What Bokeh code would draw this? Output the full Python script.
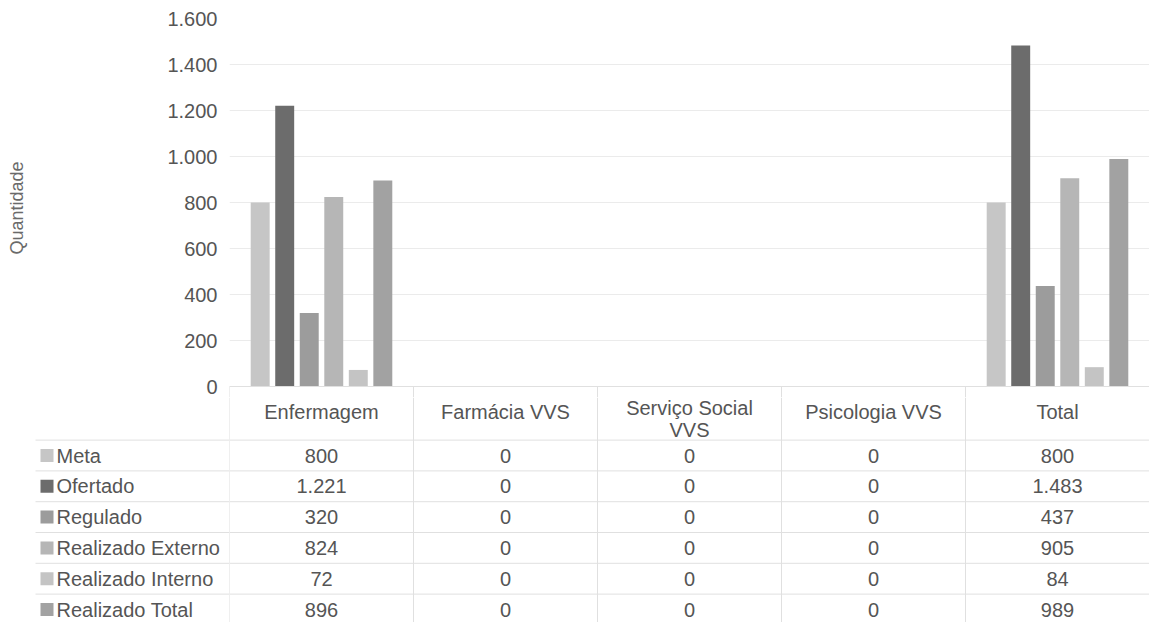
from bokeh.plotting import figure
from bokeh.layouts import column, row
from bokeh.models import FactorRange, Range1d, ColumnDataSource, FixedTicker
from bokeh.transform import dodge
from bokeh.core.properties import value
from bokeh.embed import file_html
from bokeh.resources import INLINE

# ---------------- data ----------------
categories = ["Enfermagem", "Farmácia VVS", "Serviço Social VVS", "Psicologia VVS", "Total"]
header_labels = ["Enfermagem", "Farmácia VVS", "Serviço Social\nVVS", "Psicologia VVS", "Total"]
series_names = ["Meta", "Ofertado", "Regulado", "Realizado Externo", "Realizado Interno", "Realizado Total"]
meta = [800, 0, 0, 0, 800]
ofertado = [1221, 0, 0, 0, 1483]
regulado = [320, 0, 0, 0, 437]
realizado_externo = [824, 0, 0, 0, 905]
realizado_interno = [72, 0, 0, 0, 84]
realizado_total = [896, 0, 0, 0, 989]
y_ticks = [0, 200, 400, 600, 800, 1000, 1200, 1400, 1600]
y_axis_label = "Quantidade"

series_values = [meta, ofertado, regulado, realizado_externo, realizado_interno, realizado_total]
colors = ["#c6c6c6", "#6c6c6c", "#9c9c9c", "#b6b6b6", "#c4c4c4", "#a2a2a2"]


def fmt(v):
    return f"{v:,}".replace(",", ".")


# ---------------- layout constants (pixels) ----------------
W = 1149
LEFT = 229            # width of the left column (axis / legend keys)
TOP = 18              # frame top of the chart
FH0 = 368             # pixels from 0 to 1600
EXT = 11              # frame extension below zero (room for the "0" label)
HA = TOP + FH0 + EXT  # chart figure height
HB = 225              # table figure height
NCAT = len(categories)
FONT = value("Liberation Sans")
TXT = "#555555"
LINE = "#e0e0e0"
FS = "20px"
Y_MIN = -EXT * 1600 / FH0

# ---------------- chart ----------------
pa = figure(width=W, height=HA, output_backend="svg", toolbar_location=None,
            x_range=FactorRange(*categories), y_range=Range1d(Y_MIN, 1600),
            x_axis_location=None, min_border_left=LEFT, min_border_right=0,
            min_border_top=TOP, min_border_bottom=0)
pa.outline_line_color = None
pa.xgrid.visible = False

yax = pa.yaxis[0]
yax.ticker = FixedTicker(ticks=y_ticks)
yax.major_label_overrides = {t: fmt(t) for t in y_ticks}
yax.axis_line_color = None
yax.major_tick_line_color = None
yax.minor_tick_line_color = None
yax.major_tick_out = 0
yax.major_label_standoff = 12
yax.major_label_text_font = "Liberation Sans"
yax.major_label_text_font_size = FS
yax.major_label_text_color = TXT
yax.axis_label = y_axis_label
yax.axis_label_text_font = "Liberation Sans"
yax.axis_label_text_font_size = "18px"
yax.axis_label_text_font_style = "normal"
yax.axis_label_text_color = "#6a6a6a"
yax.axis_label_standoff = 137
pa.ygrid.ticker = FixedTicker(ticks=y_ticks)
pa.ygrid.grid_line_color = "#ebebeb"

STEP = 0.1333
BW = 0.103
for i, (vals, col) in enumerate(zip(series_values, colors)):
    src = ColumnDataSource(dict(cat=categories, v=vals))
    pa.vbar(x=dodge("cat", (i - 2.5) * STEP, range=pa.x_range), top="v", width=BW,
            source=src, fill_color=col, line_color=None)

# category axis line and start of the table's column lines
ax_x0 = [0] + list(range(NCAT + 1))
ax_x1 = [NCAT] + list(range(NCAT + 1))
ax_y0 = [0] * (NCAT + 2)
ax_y1 = [0] + [Y_MIN] * (NCAT + 1)
pa.segment(x0="x0", y0="y0", x1="x1", y1="y1", line_color=LINE, line_width=1,
           source=ColumnDataSource(dict(x0=ax_x0, y0=ax_y0, x1=ax_x1, y1=ax_y1)))

# ---------------- data table ----------------
# table y coordinates: pixels below the top of the table figure
HEADER_Y = 14
HEADER2_Y = 21
ROW0 = 58
ROW_STEP = 30.8
row_y = [ROW0 + i * ROW_STEP for i in range(len(series_names))]
row_lines = [y - ROW_STEP / 2 for y in row_y] + [row_y[-1] + ROW_STEP / 2]


def table_fig(width, x_range):
    f = figure(width=width, height=HB, output_backend="svg", toolbar_location=None,
               x_range=x_range, y_range=Range1d(HB, 0),
               x_axis_location=None, y_axis_location=None,
               min_border_left=0, min_border_right=0, min_border_top=0, min_border_bottom=0)
    f.outline_line_color = None
    f.xgrid.visible = False
    f.ygrid.visible = False
    return f


# right part: one column per category, sharing the chart's categorical x range
pb = table_fig(W - LEFT, pa.x_range)
seg_x0, seg_x1, seg_y0, seg_y1 = [], [], [], []
for k in range(NCAT + 1):
    seg_x0.append(k); seg_x1.append(k); seg_y0.append(0); seg_y1.append(HB)
for y in row_lines:
    seg_x0.append(0); seg_x1.append(NCAT); seg_y0.append(y); seg_y1.append(y)
pb.segment(x0="x0", y0="y0", x1="x1", y1="y1", line_color=LINE, line_width=1,
           source=ColumnDataSource(dict(x0=seg_x0, y0=seg_y0, x1=seg_x1, y1=seg_y1)))

head_y = [HEADER2_Y if "\n" in h else HEADER_Y for h in header_labels]
pb.text(x="cat", y="y", text="t", text_align="center", text_baseline="middle",
        text_font=FONT, text_font_size=FS, text_color=TXT, text_line_height=1.0,
        source=ColumnDataSource(dict(cat=categories, t=header_labels, y=head_y)))
for vals, y in zip(series_values, row_y):
    pb.text(x="cat", y="y", text="t", text_align="center", text_baseline="middle",
            text_font=FONT, text_font_size=FS, text_color=TXT,
            source=ColumnDataSource(dict(cat=categories, t=[fmt(v) for v in vals],
                                         y=[y] * NCAT)))

# left part: legend keys and series names
pl = table_fig(LEFT, Range1d(0, LEFT))
pl.segment(x0="x0", y0="y", x1="x1", y1="y", line_color=LINE, line_width=1,
           source=ColumnDataSource(dict(x0=[35] * len(row_lines), x1=[LEFT] * len(row_lines),
                                        y=row_lines)))
pl.scatter(x="x", y="y", marker="square", size=13, fill_color="c", line_color=None,
           source=ColumnDataSource(dict(x=[46.5] * len(series_names), y=row_y, c=colors)))
pl.text(x="x", y="y", text="t", text_align="left", text_baseline="middle",
        text_font=FONT, text_font_size=FS, text_color=TXT,
        source=ColumnDataSource(dict(x=[56] * len(series_names), y=row_y, t=series_names)))

layout = column(pa, row(pl, pb, spacing=0), spacing=0)
open("out.html", "w").write(file_html(layout, INLINE))
